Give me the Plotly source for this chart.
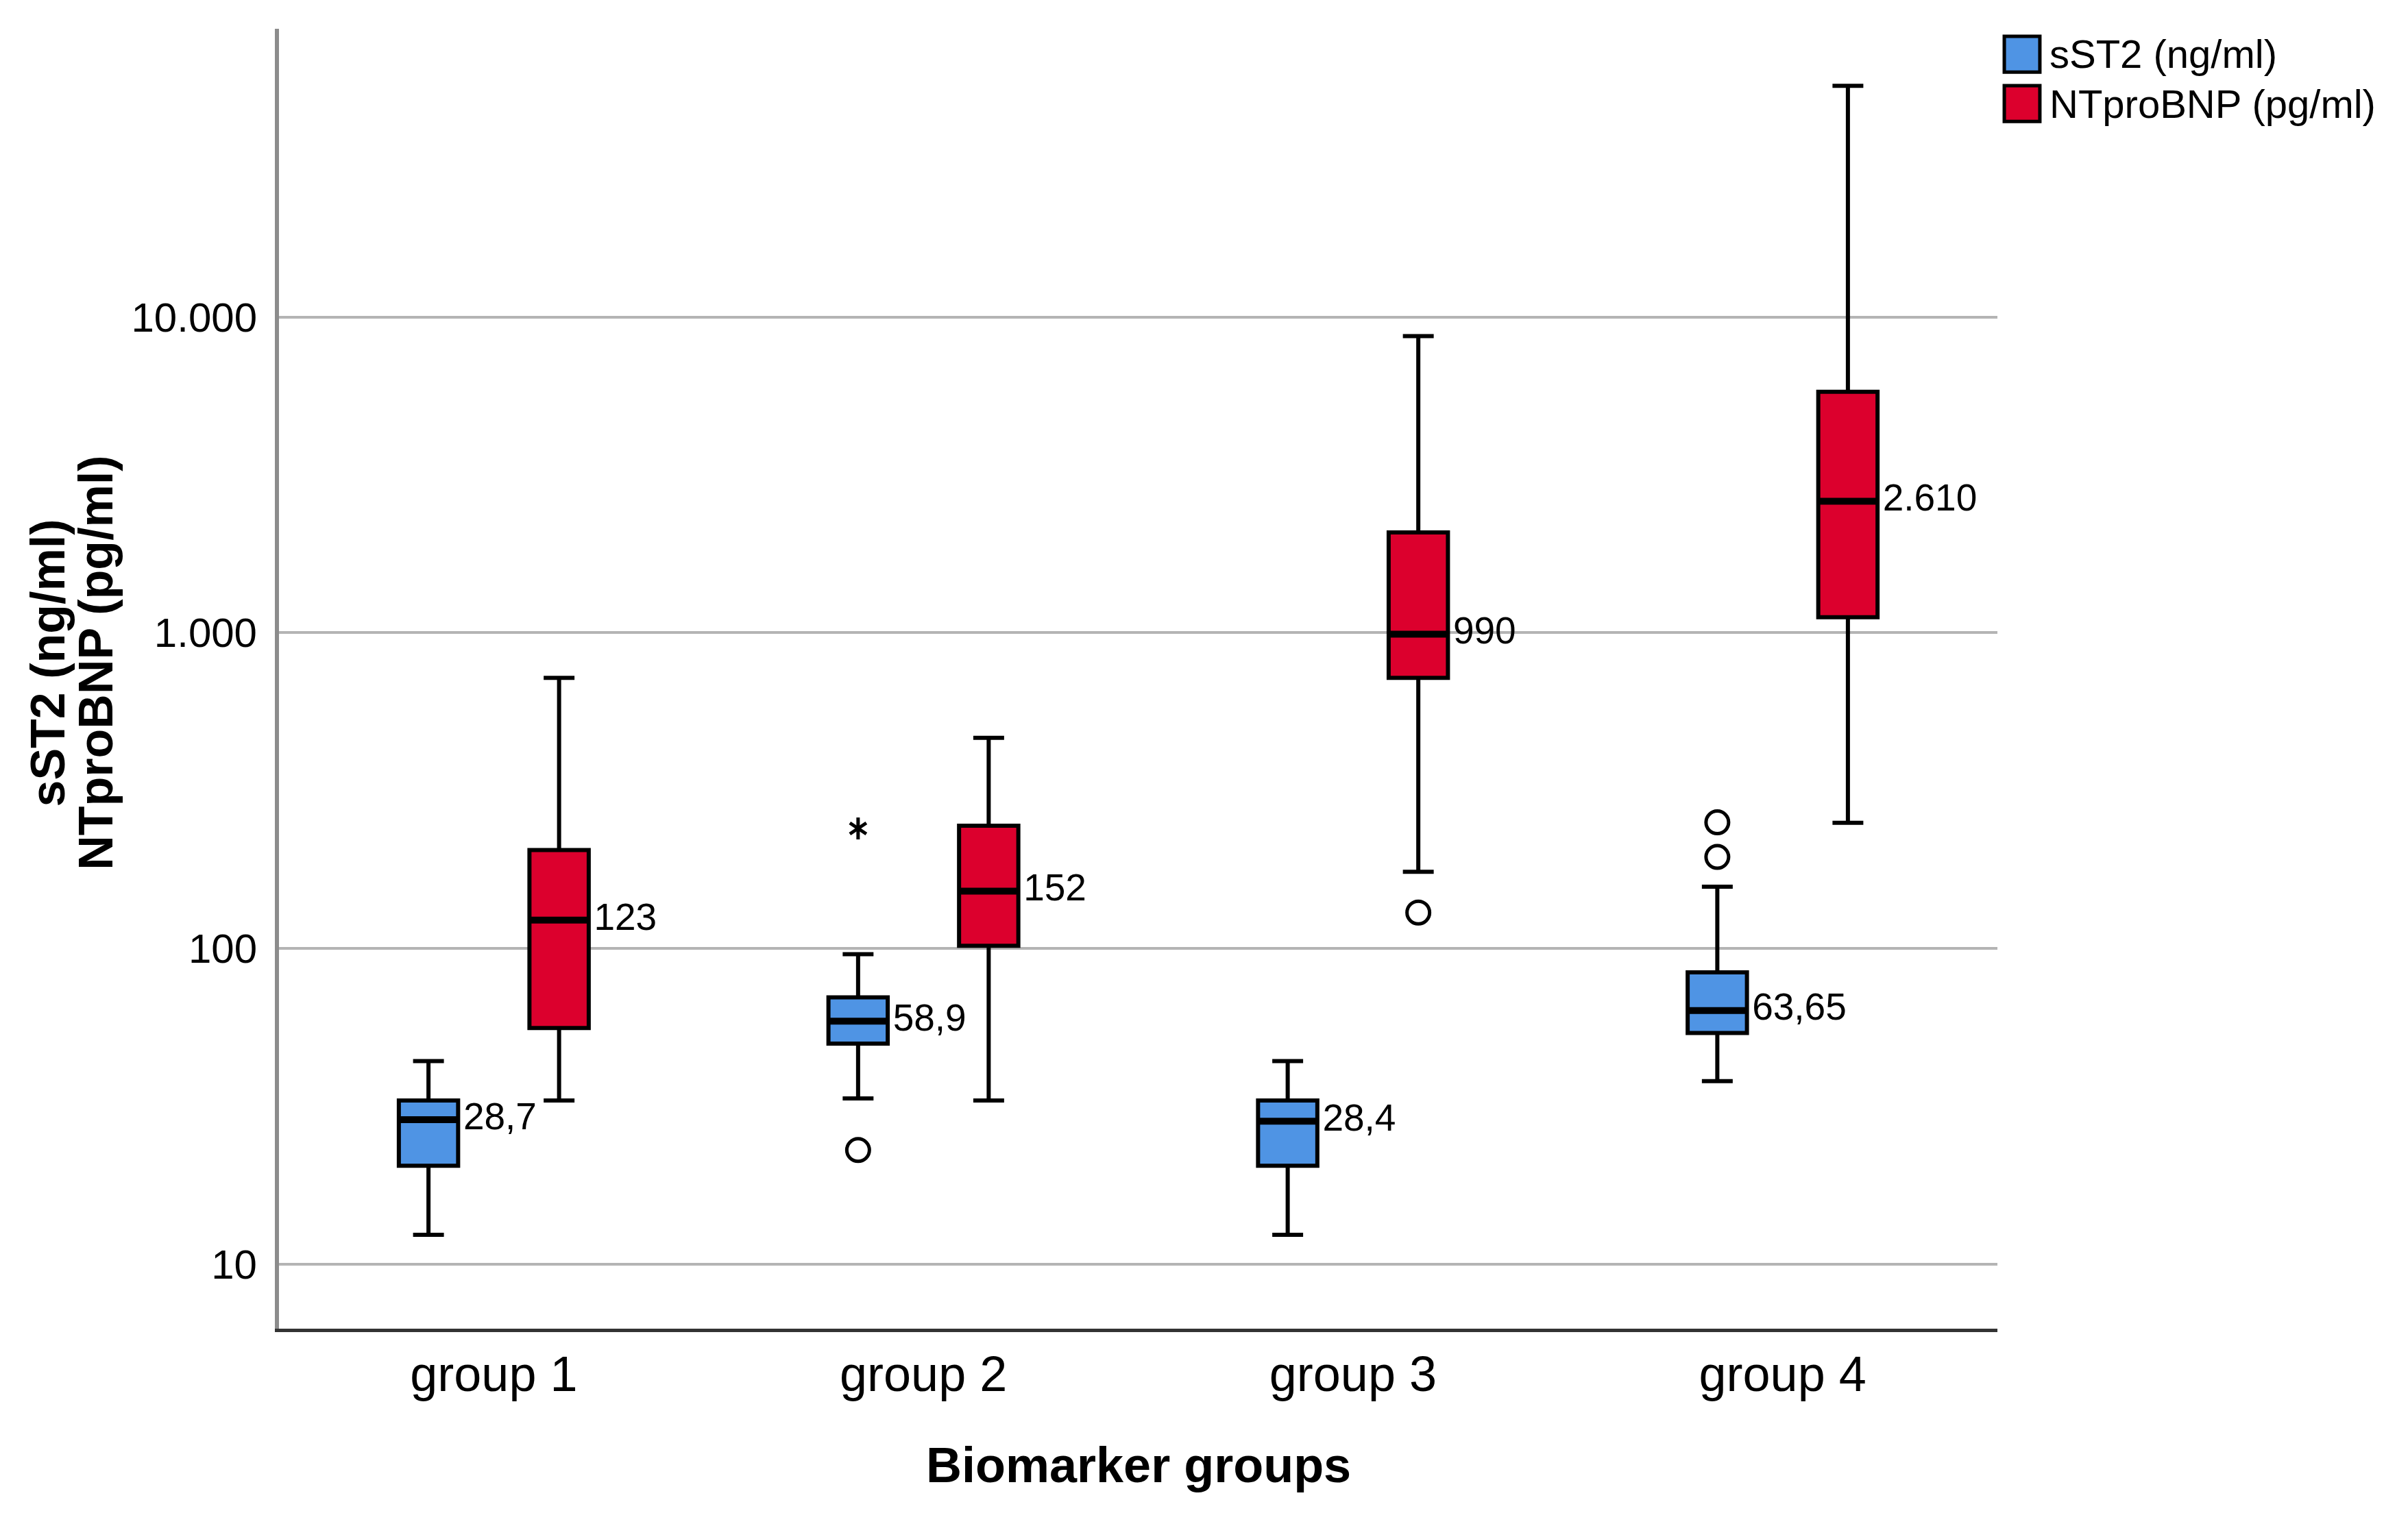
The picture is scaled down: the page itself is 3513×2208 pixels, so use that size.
import plotly.graph_objects as go

groups = ["group 1", "group 2", "group 3", "group 4"]

# sST2 (ng/ml) box stats per group
sst2_low = [12.4, 33.5, 12.4, 38]
sst2_q1 = [20.5, 50, 20.5, 54]
sst2_med = [28.7, 58.9, 28.4, 63.65]
sst2_q3 = [33, 70, 33, 84]
sst2_high = [44, 96, 44, 157]
sst2_labels = ["28,7", "58,9", "28,4", "63,65"]

# NTproBNP (pg/ml) box stats per group
bnp_low = [33, 33, 175, 250]
bnp_q1 = [56, 102, 720, 1120]
bnp_med = [123, 152, 990, 2610]
bnp_q3 = [205, 245, 2080, 5800]
bnp_high = [720, 465, 8700, 54000]
bnp_labels = ["123", "152", "990", "2.610"]

# outliers: (group index, value)
sst2_circle_grp = [1, 3, 3]
sst2_circle_val = [23, 195, 251]
sst2_star_grp = [1]
sst2_star_val = [240]
bnp_circle_grp = [2]
bnp_circle_val = [130]

series_names = ["sST2 (ng/ml)", "NTproBNP (pg/ml)"]

BLUE = "#4f94e4"
RED = "#dc002d"
OFF = 0.152
W = 0.138
FONT = "Liberation Sans, Arial, sans-serif"

pos = list(range(len(groups)))
x_sst2 = [p - OFF for p in pos]
x_bnp = [p + OFF for p in pos]

fig = go.Figure()


def add_boxes(xs, lo, q1, med, q3, hi, name, color):
    fig.add_trace(go.Box(
        x=xs, lowerfence=lo, q1=q1, median=med, q3=q3, upperfence=hi,
        name=name, width=W, whiskerwidth=0.52,
        fillcolor=color, line=dict(color="black", width=6),
        boxpoints=False, showlegend=False,
    ))
    # thicker median bars
    mx, my = [], []
    for x, m in zip(xs, med):
        mx += [x - W / 2, x + W / 2, None]
        my += [m, m, None]
    fig.add_trace(go.Scatter(x=mx, y=my, mode="lines",
                             line=dict(color="black", width=10),
                             showlegend=False, hoverinfo="skip"))


add_boxes(x_sst2, sst2_low, sst2_q1, sst2_med, sst2_q3, sst2_high,
          series_names[0], BLUE)
add_boxes(x_bnp, bnp_low, bnp_q1, bnp_med, bnp_q3, bnp_high,
          series_names[1], RED)

# median value labels
fig.add_trace(go.Scatter(
    x=[x + W / 2 + 0.012 for x in x_sst2] + [x + W / 2 + 0.012 for x in x_bnp],
    y=sst2_med + bnp_med,
    mode="text", text=sst2_labels + bnp_labels,
    textposition="middle right",
    textfont=dict(family=FONT, size=55, color="black"),
    showlegend=False, hoverinfo="skip"))

# outliers
fig.add_trace(go.Scatter(
    x=[x_sst2[g] for g in sst2_circle_grp] + [x_bnp[g] for g in bnp_circle_grp],
    y=sst2_circle_val + bnp_circle_val, mode="markers",
    marker=dict(symbol="circle-open", size=33, color="black",
                line=dict(width=5, color="black")),
    showlegend=False, hoverinfo="skip"))
# six-armed asterisk built from two Y markers
for sym in ["y-up-open", "y-down-open"]:
    fig.add_trace(go.Scatter(
        x=[x_sst2[g] for g in sst2_star_grp], y=sst2_star_val, mode="markers",
        marker=dict(symbol=sym, size=20, color="black",
                    line=dict(width=5, color="black")),
        showlegend=False, hoverinfo="skip"))

# hand-drawn legend (bigger swatches than plotly's legend allows)
legend_shapes = []
legend_notes = []
for i, (nm, col) in enumerate(zip(series_names, [BLUE, RED])):
    y_top = 0.9942 - i * 0.0380
    legend_shapes.append(dict(
        type="rect", xref="paper", yref="paper",
        x0=1.0040, x1=1.0247, y0=y_top - 0.0275, y1=y_top,
        fillcolor=col, line=dict(color="black", width=5)))
    legend_notes.append(dict(
        text=nm, xref="paper", yref="paper", x=1.0296, y=y_top - 0.0137,
        xanchor="left", yanchor="middle", showarrow=False,
        font=dict(family=FONT, size=58)))

fig.update_layout(
    width=3513, height=2208,
    margin=dict(l=399, r=607, t=34, b=277),
    plot_bgcolor="white", paper_bgcolor="white",
    separators=",.",
    boxmode="overlay",
    showlegend=False,
    font=dict(family=FONT, color="black"),
    xaxis=dict(
        range=[-0.5, 3.5], tickvals=pos, ticktext=groups,
        tickfont=dict(family=FONT, size=72), ticks="",
        showgrid=False, zeroline=False, ticklabelstandoff=0,
        showline=True, linecolor="#333333", linewidth=5,
    ),
    yaxis=dict(
        type="log", range=[0.796, 4.913],
        tickvals=[10, 100, 1000, 10000], tickformat=",d",
        tickfont=dict(family=FONT, size=60), ticks="",
        showgrid=True, gridcolor="#b4b4b4", gridwidth=4,
        zeroline=False, ticklabelstandoff=14,
        showline=True, linecolor="#8c8c8c", linewidth=6,
    ),
    shapes=legend_shapes,
    annotations=legend_notes + [
        dict(text="<b>" + series_names[0] + "</b>",
             xref="paper", yref="paper",
             x=-0.1345, y=0.512, xanchor="center", yanchor="middle",
             textangle=-90, showarrow=False,
             font=dict(family=FONT, size=70)),
        dict(text="<b>" + series_names[1] + "</b>",
             xref="paper", yref="paper",
             x=-0.1065, y=0.512, xanchor="center", yanchor="middle",
             textangle=-90, showarrow=False,
             font=dict(family=FONT, size=70)),
        dict(text="<b>Biomarker groups</b>", xref="paper", yref="paper",
             x=0.5, y=-0.105, xanchor="center", yanchor="middle",
             showarrow=False, font=dict(family=FONT, size=72)),
    ],
)

fig.write_html("out.html")
